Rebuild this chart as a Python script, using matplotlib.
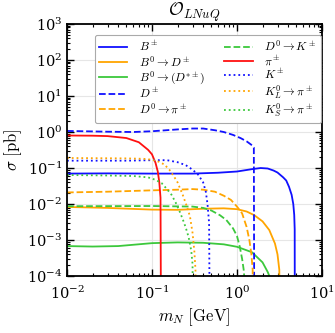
import matplotlib
matplotlib.use("Agg")
import matplotlib.pyplot as plt
from matplotlib.ticker import LogLocator, NullFormatter

plt.rcParams['mathtext.fontset'] = 'cm'
plt.rcParams['font.family'] = ['DejaVu Serif']

# ---- data (m_N in GeV, sigma in pb) ----
B_pm_m = [0.01, 0.03, 0.1, 0.3, 0.6, 1.0, 1.5, 1.9, 2.3, 2.7, 3.0, 3.5, 3.8, 4.1, 4.4, 4.6, 4.72, 4.78, 4.8]
B_pm_s = [0.070, 0.071, 0.070, 0.070, 0.074, 0.080, 0.093, 0.100, 0.097, 0.085, 0.075, 0.055, 0.045, 0.030, 0.018, 0.010, 0.005, 0.002, 1e-6]

B0D_m = [0.01, 0.03, 0.1, 0.2, 0.4, 0.7, 1.0, 1.3, 1.6, 2.0, 2.4, 2.8, 3.0, 3.15, 3.2]
B0D_s = [0.0083, 0.0078, 0.0070, 0.0069, 0.0074, 0.0076, 0.0072, 0.0062, 0.0049, 0.0033, 0.0019, 0.0008, 0.0004, 0.00015, 1e-6]

B0Dst_m = [0.01, 0.02, 0.04, 0.1, 0.2, 0.4, 0.7, 1.0, 1.5, 2.0, 2.3, 2.5, 2.6]
B0Dst_s = [0.00068, 0.00066, 0.00068, 0.00082, 0.00086, 0.00084, 0.00076, 0.00065, 0.00046, 0.00024, 0.00013, 0.00008, 1e-6]

D_pm_m = [0.01, 0.03, 0.06, 0.1, 0.2, 0.3, 0.4, 0.55, 0.7, 0.9, 1.1, 1.3, 1.5, 1.58, 1.6]
D_pm_s = [1.07, 1.02, 1.0, 1.05, 1.18, 1.25, 1.25, 1.12, 1.0, 0.83, 0.68, 0.55, 0.43, 0.37, 1e-6]

D0pi_m = [0.01, 0.03, 0.1, 0.2, 0.3, 0.4, 0.55, 0.7, 0.85, 1.0, 1.15, 1.3, 1.4, 1.48, 1.53, 1.56]
D0pi_s = [0.021, 0.022, 0.024, 0.025, 0.026, 0.025, 0.022, 0.017, 0.013, 0.0085, 0.0055, 0.0023, 0.0010, 0.0004, 0.00015, 1e-6]

D0K_m = [0.01, 0.1, 0.3, 0.4, 0.5, 0.63, 0.75, 0.9, 1.0, 1.08, 1.15, 1.2, 1.24, 1.25]
D0K_s = [0.0087, 0.0088, 0.0085, 0.0078, 0.0066, 0.0049, 0.0036, 0.0021, 0.0013, 0.00065, 0.0003, 0.00015, 0.00006, 1e-6]

pi_m = [0.01, 0.02, 0.03, 0.05, 0.07, 0.09, 0.1, 0.11, 0.117, 0.122, 0.126, 0.128]
pi_s = [0.80, 0.79, 0.77, 0.68, 0.52, 0.32, 0.24, 0.14, 0.08, 0.04, 0.015, 1e-6]

K_m = [0.01, 0.05, 0.1, 0.15, 0.2, 0.25, 0.3, 0.35, 0.4, 0.43, 0.45, 0.47, 0.48]
K_s = [0.16, 0.16, 0.165, 0.165, 0.145, 0.12, 0.09, 0.065, 0.04, 0.022, 0.01, 0.003, 1e-6]

KL_m = [0.01, 0.05, 0.08, 0.1, 0.12, 0.14, 0.16, 0.18, 0.2, 0.23, 0.26, 0.28, 0.3, 0.315, 0.325, 0.33]
KL_s = [0.19, 0.185, 0.18, 0.17, 0.15, 0.125, 0.09, 0.06, 0.04, 0.018, 0.008, 0.0045, 0.0016, 0.0005, 0.00015, 1e-6]

KS_m = [0.01, 0.03, 0.06, 0.09, 0.11, 0.13, 0.15, 0.17, 0.19, 0.21, 0.23, 0.25, 0.27, 0.29, 0.3, 0.306]
KS_s = [0.064, 0.062, 0.060, 0.055, 0.047, 0.038, 0.026, 0.018, 0.011, 0.0065, 0.0038, 0.0022, 0.0012, 0.0005, 0.00022, 1e-6]

labels = [r'$B^\pm$', r'$B^0\to D^\pm$', r'$B^0\to(D^{*\pm})$', r'$D^\pm$', r'$D^0\to\pi^\pm$',
          r'$D^0\to K^\pm$', r'$\pi^\pm$', r'$K^\pm$', r'$K_L^0\to\pi^\pm$', r'$K_S^0\to\pi^\pm$']

blue, orange, green, red = '#1010ff', '#ffa500', '#3cc83c', '#ff1010'

series = [
    (B_pm_m, B_pm_s, blue, '-'),
    (B0D_m, B0D_s, orange, '-'),
    (B0Dst_m, B0Dst_s, green, '-'),
    (D_pm_m, D_pm_s, blue, '--'),
    (D0pi_m, D0pi_s, orange, '--'),
    (D0K_m, D0K_s, green, '--'),
    (pi_m, pi_s, red, '-'),
    (K_m, K_s, blue, ':'),
    (KL_m, KL_s, orange, ':'),
    (KS_m, KS_s, green, ':'),
]

fig = plt.figure(figsize=(3.35, 3.33), dpi=100)
ax = fig.add_axes([0.2, 0.171, 0.761, 0.757])

for (m, s, c, ls), lab in zip(series, labels):
    ax.plot(m, s, color=c, ls=ls, lw=1.3, label=lab)

ax.set_xscale('log')
ax.set_yscale('log')
ax.set_xlim(1e-2, 1e1)
ax.set_ylim(1e-4, 1e3)

ax.xaxis.set_major_locator(LogLocator(base=10, numticks=10))
ax.yaxis.set_major_locator(LogLocator(base=10, numticks=20))
ax.xaxis.set_minor_locator(LogLocator(base=10, subs=range(2, 10), numticks=20))
ax.yaxis.set_minor_locator(LogLocator(base=10, subs=range(2, 10), numticks=20))
ax.xaxis.set_minor_formatter(NullFormatter())
ax.yaxis.set_minor_formatter(NullFormatter())

ax.tick_params(which='both', direction='in', top=True, right=True, labelsize=10.5)
ax.tick_params(which='major', length=5, width=1.0)
ax.tick_params(which='minor', length=2.5, width=0.8)
ax.tick_params(axis='x', which='major', pad=6)
for sp in ax.spines.values():
    sp.set_linewidth(1.3)
ax.grid(True, which='major', color='#e6e6e6', lw=0.8)
ax.set_axisbelow(True)

ax.set_xlabel(r'$m_N\ [\mathrm{GeV}]$', fontsize=12, labelpad=3)
ax.set_ylabel(r'$\sigma\ [\mathrm{pb}]$', fontsize=12, labelpad=2)
ax.set_title(r'$\mathcal{O}_{LNuQ}$', fontsize=13, pad=5)

leg = ax.legend(ncol=2, loc='upper right', bbox_to_anchor=(0.997, 0.957), borderaxespad=0,
                fontsize=8.5, handlelength=2.4, labelspacing=0.03, columnspacing=1.6,
                handletextpad=1.0, frameon=True, fancybox=True, borderpad=0.35,
                framealpha=1.0)
leg.get_frame().set_edgecolor('#aaaaaa')
leg.get_frame().set_linewidth(0.8)

fig.savefig('out.png', dpi=100)
